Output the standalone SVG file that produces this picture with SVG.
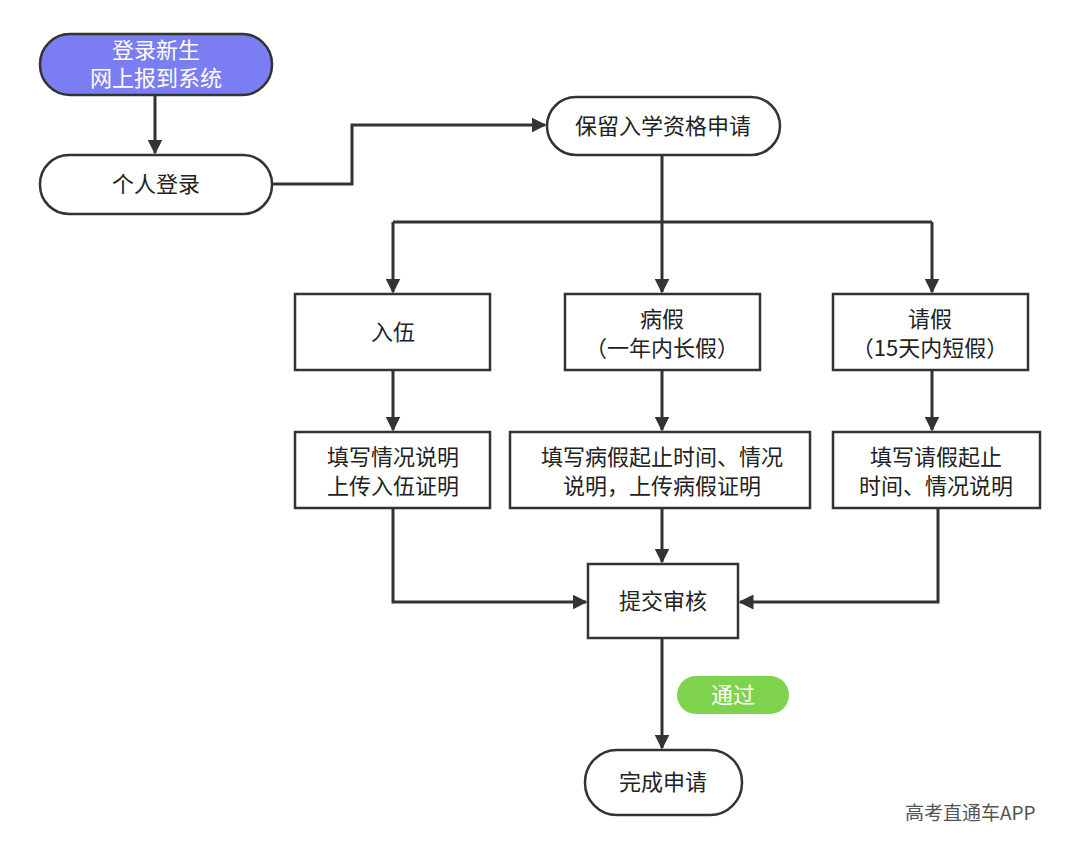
<svg xmlns="http://www.w3.org/2000/svg" width="1080" height="852" viewBox="0 0 1080 852">
<style>
.n{fill:#fff;stroke:#333;stroke-width:2.5}
.t{font-family:"Noto Sans CJK SC","Noto Sans",sans-serif;font-size:22px;fill:#222;text-anchor:middle}
.c{fill:none;stroke:#333;stroke-width:3}
</style>
<defs><marker id="a" viewBox="0 0 10 10" refX="9" refY="5" markerWidth="5" markerHeight="5" orient="auto"><path d="M0,0L10,5L0,10z" fill="#333"/></marker></defs>
<rect width="1080" height="852" fill="#fff"/>
<g id="connectors">
<path class="c" marker-end="url(#a)" d="M155,95V153"/>
<path class="c" marker-end="url(#a)" d="M272,184H352V125H545"/>
<path class="c" marker-end="url(#a)" d="M662,155V292"/>
<path class="c" d="M393,222H932"/>
<path class="c" marker-end="url(#a)" d="M393,222V292"/>
<path class="c" marker-end="url(#a)" d="M932,222V292"/>
<path class="c" marker-end="url(#a)" d="M393,370V430"/>
<path class="c" marker-end="url(#a)" d="M662,370V430"/>
<path class="c" marker-end="url(#a)" d="M932,370V430"/>
<path class="c" marker-end="url(#a)" d="M662,508V562"/>
<path class="c" marker-end="url(#a)" d="M393,508V602H586"/>
<path class="c" marker-end="url(#a)" d="M938,508V602H740"/>
<path class="c" marker-end="url(#a)" d="M662,638V748"/>
</g>
<g id="n1"><rect x="40" y="34" width="232" height="61" rx="30" fill="#7b7ef2" stroke="#333" stroke-width="2.5"/><text class="t" x="156" y="58" style="fill:#fff">登录新生</text><text class="t" x="156" y="86" style="fill:#fff">网上报到系统</text></g>
<g id="n2"><rect class="n" x="40" y="155" width="232" height="59" rx="29"/><text class="t" x="156" y="192">个人登录</text></g>
<g id="n3"><rect class="n" x="547" y="97" width="233" height="58" rx="29"/><text class="t" x="663" y="134">保留入学资格申请</text></g>
<g id="n4"><rect class="n" x="295" y="294" width="195" height="76"/><text class="t" x="393" y="340">入伍</text></g>
<g id="n5"><rect class="n" x="565" y="294" width="195" height="76"/><text class="t" x="662" y="327">病假</text><text class="t" x="662" y="356">（一年内长假）</text></g>
<g id="n6"><rect class="n" x="833" y="294" width="195" height="76"/><text class="t" x="930" y="327">请假</text><text class="t" x="930" y="356">（15天内短假）</text></g>
<g id="n7"><rect class="n" x="295" y="432" width="195" height="76"/><text class="t" x="393" y="465">填写情况说明</text><text class="t" x="393" y="494">上传入伍证明</text></g>
<g id="n8"><rect class="n" x="510" y="432" width="300" height="76"/><text class="t" x="662" y="465">填写病假起止时间、情况</text><text class="t" x="662" y="494">说明，上传病假证明</text></g>
<g id="n9"><rect class="n" x="833" y="432" width="207" height="76"/><text class="t" x="936" y="465">填写请假起止</text><text class="t" x="936" y="494">时间、情况说明</text></g>
<g id="n10"><rect class="n" x="588" y="564" width="150" height="74"/><text class="t" x="663" y="609">提交审核</text></g>
<g id="n11"><rect x="677" y="676" width="112" height="38" rx="19" fill="#7ed24c"/><text class="t" x="733" y="703" style="fill:#fff">通过</text></g>
<g id="n12"><rect class="n" x="585" y="750" width="157" height="65" rx="32"/><text class="t" x="663" y="790">完成申请</text></g>
<text x="905" y="820" style="font-family:'Noto Sans CJK SC',sans-serif;font-size:19px;fill:#555">高考直通车APP</text>
</svg>
